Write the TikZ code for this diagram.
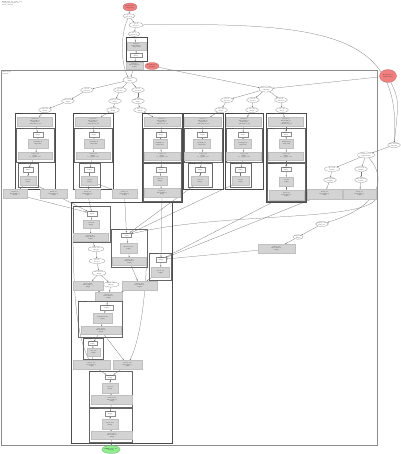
\documentclass[tikz,border=0pt]{standalone}
\definecolor{paramred}{RGB}{240, 128, 128}
\definecolor{rootgreen}{RGB}{144, 238, 144}
\definecolor{fusegray}{RGB}{211, 211, 211}
\usepackage{tikz}
\usetikzlibrary{shapes.geometric, arrows.meta, backgrounds}
\newcommand{\hlofont}{\fontsize{1.3}{1.6}\selectfont}
\tikzset{
  hloell/.style={ellipse, draw=black!45, fill=white, line width=0.25pt, inner sep=0pt, minimum width=13pt, minimum height=5pt, font=\hlofont, align=center},
  paramell/.style={hloell, fill=paramred, draw=paramred!75!black},
  rootell/.style={hloell, fill=rootgreen, draw=rootgreen!70!black},
  fusebox/.style={rectangle, fill=fusegray, draw=black!25, line width=0.2pt, inner sep=0pt, minimum height=9pt, font=\hlofont, align=center},
  instbox/.style={rectangle, draw=black!45, fill=white, line width=0.2pt, inner sep=0pt, minimum width=10pt, minimum height=4.5pt, font=\hlofont, align=center},
  outerclu/.style={draw=black!45, line width=1pt},
  fuseclu/.style={draw=black!70, line width=0.7pt},
  innerclu/.style={draw=black!60, line width=0.45pt},
  clulabel/.style={font=\hlofont, anchor=north west, inner sep=0.3pt, align=left},
  wire/.style={draw=black!55, line width=0.25pt, -{Stealth[length=1.6pt, width=1.2pt]}},
}

\begin{document}
\begin{tikzpicture}[x=1pt, y=-1pt]
  \useasboundingbox (0,0) rectangle (400,454);

  % Header
  \node[clulabel] (hdr) at (1.5,1) {HloModule jit\_train\_step\\computation main.42\\fusion clusters};

  % Entry chain
  \node[paramell, minimum width=14pt, minimum height=8pt] (r0) at (130,7) {Parameter 0\\f32[8,128]};
  \node[hloell, minimum width=12pt, minimum height=4.5pt] (e1) at (129,16) {gte.1\\index=0};
  \node[hloell, minimum width=14pt] (e2) at (136,25) {gte.2\\index=1};
  \node[hloell, minimum width=12pt, minimum height=4.5pt] (e3) at (134,34) {gte.3\\index=2};

  % Top fusion
  \draw[fuseclu] (126,37) rectangle (147,61);
  \node[clulabel] (tlab) at (126.5,37.5) {fusion.1};
  \node[fusebox, minimum width=19pt, minimum height=8pt] (t1) at (136.5,46) {fusion.1\\kind=kLoop\\f32[8,128]};
  \node[instbox, minimum width=12pt, minimum height=4pt] (t2) at (136,55) {copy.2\\f32[8]};
  \node[fusebox, minimum width=17pt, minimum height=7pt] (t3) at (134.5,65.5) {fusion.2\\kind=kInput\\f32[8]};
  \node[paramell, minimum width=14pt, minimum height=7pt] (r1) at (152,66) {Parameter 1\\f32[128]};

  % Main computation
  \draw[outerclu] (1,71) rectangle (377,445);
  \node[clulabel] (mlab) at (2,71.5) {while.body\\main.42};
  \node[hloell, minimum width=14pt, minimum height=6pt] (m0) at (130,80) {tuple.5\\f32[8]};

  % Left fan
  \node[hloell] (la1) at (87,90) {gte.10\\index=0};
  \node[hloell] (la2) at (68,101) {bitcast.11\\f32[8]};
  \node[hloell] (la3) at (45,110) {slice.12\\f32[4]};
  \node[hloell] (lb1) at (120,90) {gte.13\\index=1};
  \node[hloell] (lb2) at (115,101) {bitcast.14\\f32[8]};
  \node[hloell] (lb3) at (113,110) {slice.15\\f32[4]};
  \node[hloell] (lc1) at (138,90) {gte.16\\index=2};
  \node[hloell] (lc2) at (138,101) {bitcast.17\\f32[8]};
  \node[hloell] (lc3) at (140,110) {slice.18\\f32[4]};

  % Right fan
  \node[paramell, minimum width=17pt, minimum height=13pt] (r2) at (388,76) {Parameter 2\\f32[128,128]};
  \node[hloell, minimum width=14pt, minimum height=6pt] (hub) at (266,89) {broadcast.20\\f32[128]};
  \node[hloell] (rd1) at (227,100) {gte.21\\index=0};
  \node[hloell] (rd2) at (221,110) {slice.22\\f32[4]};
  \node[hloell] (rf1) at (253,100) {gte.23\\index=1};
  \node[hloell] (rf2) at (252,110) {slice.24\\f32[4]};
  \node[hloell] (rg1) at (281,100) {gte.25\\index=2};
  \node[hloell] (rg2) at (282,110) {slice.26\\f32[4]};

  % Fusion A
  \draw[fuseclu] (15,113) rectangle (55,189);
  \node[clulabel] (falab) at (15.5,113.3) {fusion.30};
  \node[fusebox, minimum width=35pt] (fatop) at (35,121.5) {fusion.30\\kind=kLoop\\f32[8,128]\\calls=fused\_30};
  \draw[innerclu] (16,128) rectangle (54,162);
  \node[clulabel] (fa1lab) at (16.5,128.3) {fused\_30};
  \node[instbox] (faw1) at (38,134.5) {param.0\\f32[8]};
  \node[fusebox, minimum width=20pt] (fag1) at (38,143.5) {multiply.31\\f32[8,128]};
  \node[fusebox, minimum width=34pt, minimum height=7pt] (fab1) at (35,156) {reduce.32\\f32[8]\\to\_apply=add};
  \draw[innerclu] (18,163) rectangle (38,187);
  \node[clulabel] (fa2lab) at (18.5,163.3) {fused\_33};
  \node[instbox] (faw2) at (28,169.5) {param.1\\f32[8]};
  \node[fusebox, minimum width=16pt] (fag2) at (28,181) {add.34\\f32[8]};

  % Fusion B
  \draw[fuseclu] (73,113) rectangle (113,189);
  \node[clulabel] (fblab) at (73.5,113.3) {fusion.40};
  \node[fusebox, minimum width=35pt] (fbtop) at (93,121.5) {fusion.40\\kind=kLoop\\f32[8,128]\\calls=fused\_40};
  \draw[innerclu] (74,128) rectangle (112,162);
  \node[clulabel] (fb1lab) at (74.5,128.3) {fused\_40};
  \node[instbox] (fbw1) at (94,134.5) {param.0\\f32[8]};
  \node[fusebox, minimum width=20pt] (fbg1) at (94,143.5) {multiply.41\\f32[8,128]};
  \node[fusebox, minimum width=34pt, minimum height=7pt] (fbb1) at (93,156) {reduce.42\\f32[8]\\to\_apply=add};
  \draw[innerclu] (79,163) rectangle (100,187);
  \node[clulabel] (fb2lab) at (79.5,163.3) {fused\_43};
  \node[instbox] (fbw2) at (89.5,169.5) {param.1\\f32[8]};
  \node[fusebox, minimum width=16pt] (fbg2) at (89.5,181) {add.44\\f32[8]};

  % Fusion C
  \draw[fuseclu] (142,113) rectangle (182,202);
  \node[clulabel] (fclab) at (142.5,113.3) {fusion.50};
  \node[fusebox, minimum width=36pt] (fctop) at (162,121.5) {fusion.50\\kind=kLoop\\f32[8,128]\\calls=fused\_50};
  \draw[innerclu] (143,128) rectangle (181,162);
  \node[clulabel] (fc1lab) at (143.5,128.3) {fused\_50};
  \node[instbox] (fcw1) at (161,134.5) {param.0\\f32[8]};
  \node[fusebox, minimum width=14pt] (fcg1) at (160,144) {multiply.51\\f32[8,128]};
  \node[fusebox, minimum width=36pt, minimum height=8pt] (fcb1) at (162,156) {reduce.52\\f32[8]\\to\_apply=add};
  \draw[innerclu] (143,163) rectangle (181,201);
  \node[clulabel] (fc2lab) at (143.5,163.3) {fused\_53};
  \node[instbox] (fcw2) at (161,169.5) {param.1\\f32[8]};
  \node[fusebox, minimum width=14pt] (fcg2) at (160,180.5) {add.54\\f32[8]};
  \node[fusebox, minimum width=36pt] (fcb2) at (162,193) {fusion.55\\kind=kLoop\\f32[8]};

  % Fusion D
  \draw[fuseclu] (183,113) rectangle (223,189);
  \node[clulabel] (fdlab) at (183.5,113.3) {fusion.60};
  \node[fusebox, minimum width=37pt] (fdtop) at (203,121.5) {fusion.60\\kind=kLoop\\f32[8,128]\\calls=fused\_60};
  \draw[innerclu] (184,128) rectangle (222,162);
  \node[clulabel] (fd1lab) at (184.5,128.3) {fused\_60};
  \node[instbox] (fdw1) at (202.5,134.5) {param.0\\f32[8]};
  \node[fusebox, minimum width=17pt] (fdg1) at (202,144) {multiply.61\\f32[8,128]};
  \node[fusebox, minimum width=37pt, minimum height=8pt] (fdb1) at (203,156) {reduce.62\\f32[8]\\to\_apply=add};
  \draw[innerclu] (188,163) rectangle (212,187);
  \node[clulabel] (fd2lab) at (188.5,163.3) {fused\_63};
  \node[instbox] (fdw2) at (200,169.5) {param.1\\f32[8]};
  \node[fusebox, minimum width=17pt] (fdg2) at (200,181) {add.64\\f32[8]};

  % Fusion E
  \draw[fuseclu] (225,113) rectangle (263,189);
  \node[clulabel] (felab) at (225.5,113.3) {fusion.70};
  \node[fusebox, minimum width=35pt] (fetop) at (244,121.5) {fusion.70\\kind=kLoop\\f32[8,128]\\calls=fused\_70};
  \draw[innerclu] (226,128) rectangle (262,162);
  \node[clulabel] (fe1lab) at (226.5,128.3) {fused\_70};
  \node[instbox] (few1) at (243,134.5) {param.0\\f32[8]};
  \node[fusebox, minimum width=17pt] (feg1) at (243,144) {multiply.71\\f32[8,128]};
  \node[fusebox, minimum width=35pt, minimum height=8pt] (feb1) at (244,156) {reduce.72\\f32[8]\\to\_apply=add};
  \draw[innerclu] (230,163) rectangle (251,187);
  \node[clulabel] (fe2lab) at (230.5,163.3) {fused\_73};
  \node[instbox] (few2) at (240.5,169.5) {param.1\\f32[8]};
  \node[fusebox, minimum width=17pt] (feg2) at (240.5,181) {add.74\\f32[8]};

  % Fusion F
  \draw[fuseclu] (266,113) rectangle (306,202);
  \node[clulabel] (fflab) at (266.5,113.3) {fusion.80};
  \node[fusebox, minimum width=35pt] (fftop) at (286,122) {fusion.80\\kind=kLoop\\f32[8,128]\\calls=fused\_80};
  \draw[innerclu] (267,128) rectangle (305,162);
  \node[clulabel] (ff1lab) at (267.5,128.3) {fused\_80};
  \node[instbox] (ffw1) at (286,134) {param.0\\f32[8]};
  \node[fusebox, minimum width=14pt] (ffg1) at (286.5,143.5) {multiply.81\\f32[8,128]};
  \node[fusebox, minimum width=35pt, minimum height=8pt] (ffb1) at (286,156) {reduce.82\\f32[8]\\to\_apply=add};
  \draw[innerclu] (267,163) rectangle (305,201);
  \node[clulabel] (ff2lab) at (267.5,163.3) {fused\_83};
  \node[instbox] (ffw2) at (286,169) {param.1\\f32[8]};
  \node[fusebox, minimum width=14pt] (ffg2) at (286.5,181.5) {add.84\\f32[8]};
  \node[fusebox, minimum width=35pt, minimum height=10pt] (ffb2) at (286.5,195) {fusion.85\\kind=kLoop\\f32[8]};

  % Output row
  \node[fusebox, minimum width=24pt] (out1) at (15,194) {fusion.90\\kind=kLoop\\f32[4]};
  \node[fusebox, minimum width=27pt] (out2) at (53.5,194) {fusion.91\\kind=kLoop\\f32[4]};
  \node[fusebox, minimum width=25pt] (out3) at (87.5,194) {fusion.92\\kind=kLoop\\f32[4]};
  \node[fusebox, minimum width=25pt] (out4) at (124.5,194) {fusion.93\\kind=kLoop\\f32[4]};
  \node[fusebox, minimum width=35pt, minimum height=10pt] (out5) at (324.5,194) {fusion.94\\kind=kLoop\\f32[4]};
  \node[fusebox, minimum width=33pt, minimum height=10pt] (out6) at (359.5,194) {fusion.95\\kind=kLoop\\f32[4]};

  % Right chain
  \node[hloell, minimum width=13pt] (n1) at (394,145) {bitcast.100\\f32[128]};
  \node[hloell, minimum width=17pt, minimum height=6pt] (n2) at (366,155) {transpose.101\\f32[128,128]};
  \node[hloell, minimum width=15pt] (n3) at (332,169) {slice.102\\f32[64]};
  \node[hloell] (n4) at (361,169) {slice.103\\f32[64]};
  \node[hloell] (n5) at (330,180) {bitcast.104\\f32[64]};
  \node[hloell] (n6) at (361,180) {bitcast.105\\f32[64]};
  \node[hloell, minimum width=12pt] (n7) at (322,224) {reshape.106\\f32[8,16]};
  \node[hloell, minimum width=10pt, minimum height=4.5pt] (n8) at (298,237) {copy.107\\f32[8]};
  \node[fusebox, minimum width=37pt] (out7) at (276.5,248.5) {fusion.108\\kind=kLoop\\f32[8]};

  % Lower computation
  \draw[fuseclu] (71,202) rectangle (172,443);
  \node[clulabel] (lolab) at (71.5,202.3) {fusion.110};
  \draw[innerclu] (73,206) rectangle (110,242);
  \node[clulabel] (lo1lab) at (73.5,206.3) {fused\_111};
  \node[instbox] (lo1w) at (92,213.5) {param.0\\f32[4]};
  \node[fusebox, minimum width=16pt, minimum height=8pt] (lo1g) at (91,224) {add.112\\f32[4]};
  \node[fusebox, minimum width=35pt, minimum height=8pt] (lo1b) at (90.5,237.5) {fusion.113\\kind=kLoop\\f32[4]};
  \node[hloell, minimum width=16pt] (p1) at (96,249) {tuple.114\\(f32[4])};
  \node[hloell, minimum width=16pt] (p2) at (97,261) {gte.115\\index=0};
  \node[hloell, minimum width=14pt] (p3) at (99,273) {bitcast.116\\f32[4]};
  \draw[innerclu] (111,229) rectangle (147,267);
  \node[clulabel] (lo2lab) at (111.5,229.3) {fused\_117};
  \node[instbox] (lo2w) at (126.5,235) {param.0\\f32[4]};
  \node[fusebox, minimum width=17pt, minimum height=10pt] (lo2g) at (128.5,248) {subtract.118\\f32[4]};
  \node[fusebox, minimum width=34pt, minimum height=8pt] (lo2b) at (129.5,261.5) {fusion.119\\kind=kLoop\\f32[4]};
  \draw[innerclu] (149,253) rectangle (171,280);
  \node[clulabel] (lo3lab) at (149.5,253.3) {fused\_120};
  \node[instbox] (lo3w) at (161,259.5) {param.0\\f32[4]};
  \node[fusebox, minimum width=18pt, minimum height=10pt] (lo3g) at (160.5,272) {divide.121\\f32[4]};
  \node[fusebox, minimum width=30pt] (s1) at (88,285.5) {fusion.122\\kind=kLoop\\f32[4]};
  \node[hloell, minimum width=16pt] (q1) at (111,284.5) {tuple.123\\(f32[4])};
  \node[fusebox, minimum width=35pt] (s2) at (139.5,285.5) {fusion.124\\kind=kLoop\\f32[4]};
  \node[fusebox, minimum width=27pt] (s3) at (108.5,296.5) {fusion.125\\kind=kLoop\\f32[4]};
  \draw[innerclu] (78,301) rectangle (122,337);
  \node[clulabel] (lo4lab) at (78.5,301.3) {fused\_126};
  \node[instbox, minimum width=13pt, minimum height=5pt] (lo4w) at (106.5,307.5) {param.0\\f32[4]};
  \node[fusebox, minimum width=19pt, minimum height=10pt] (lo4g) at (102.5,318) {maximum.127\\f32[4]};
  \node[fusebox, minimum width=40pt, minimum height=8pt] (lo4b) at (101,330.5) {fusion.128\\kind=kLoop\\f32[4]};
  \draw[innerclu] (83,338) rectangle (103,359);
  \node[clulabel] (lo5lab) at (83.5,338.3) {fused\_129};
  \node[instbox, minimum width=9pt, minimum height=4pt] (lo5w) at (92.5,343.5) {param.0\\f32[4]};
  \node[fusebox, minimum width=13pt, minimum height=8pt] (lo5g) at (93.5,352.5) {exp.130\\f32[4]};
  \node[fusebox, minimum width=37pt] (s4) at (91.5,365) {fusion.131\\kind=kLoop\\f32[4]};
  \node[fusebox, minimum width=29pt] (s5) at (127.5,365) {fusion.132\\kind=kLoop\\f32[4]};
  \draw[innerclu] (89,371) rectangle (132,407);
  \node[clulabel] (lo6lab) at (89.5,371.3) {fused\_133};
  \node[instbox] (lo6w) at (110,377) {param.0\\f32[4]};
  \node[fusebox, minimum width=16pt, minimum height=10pt] (lo6g) at (110,388) {log.134\\f32[4]};
  \node[fusebox, minimum width=41pt] (lo6b) at (112,400) {fusion.135\\kind=kLoop\\f32[4]};
  \draw[innerclu] (89,408) rectangle (132,442);
  \node[clulabel] (lo7lab) at (89.5,408.3) {fused\_136};
  \node[instbox] (lo7w) at (110,413.5) {param.0\\f32[4]};
  \node[fusebox, minimum width=16pt, minimum height=10pt] (lo7g) at (110,424) {negate.137\\f32[4]};
  \node[fusebox, minimum width=41pt, minimum height=8pt] (lo7b) at (112,435.5) {fusion.138\\kind=kLoop\\f32[4]};
  \node[rootell, minimum width=18pt, minimum height=8pt] (root) at (111,449.5) {ROOT tuple.139\\(f32[4])};

  % Edges
  \begin{scope}[on background layer]
    \draw[wire] (r0) -- (e1);
    \draw[wire] (e1) -- (e2);
    \draw[wire] (e2) -- (e3);
    \draw[wire] (e3) -- (t1);
    \draw[wire] (t1) -- (t2);
    \draw[wire] (t2) -- (t3);
    \draw[wire] (t3) -- (m0);
    \draw[wire] (e1) .. controls (120,35) and (121,65) .. (m0);
    \draw[wire] (e2) .. controls (330,22) and (402,35) .. (n1);
    \draw[wire] (r1) -- (hub);
    \draw[wire] (r2) -- (hub);
    \draw[wire] (r2) .. controls (399,100) .. (n1);
    % left fan
    \draw[wire] (m0) -- (la1);
    \draw[wire] (la1) -- (la2);
    \draw[wire] (la2) -- (la3);
    \draw[wire] (la3) -- (fatop);
    \draw[wire] (m0) -- (lb1);
    \draw[wire] (lb1) -- (lb2);
    \draw[wire] (lb2) -- (lb3);
    \draw[wire] (lb3) -- (fbtop);
    \draw[wire] (m0) -- (lc1);
    \draw[wire] (lc1) -- (lc2);
    \draw[wire] (lc2) -- (lc3);
    \draw[wire] (lc3) -- (fctop);
    % right fan
    \draw[wire] (hub) -- (rd1);
    \draw[wire] (rd1) -- (rd2);
    \draw[wire] (rd2) -- (fdtop);
    \draw[wire] (hub) -- (rf1);
    \draw[wire] (rf1) -- (rf2);
    \draw[wire] (rf2) -- (fetop);
    \draw[wire] (hub) -- (rg1);
    \draw[wire] (rg1) -- (rg2);
    \draw[wire] (rg2) -- (fftop);
    % inside the fusions
    \draw[wire] (fatop) -- (faw1);
    \draw[wire] (faw1) -- (fag1);
    \draw[wire] (fag1) -- (fab1);
    \draw[wire] (fab1) -- (faw2);
    \draw[wire] (faw2) -- (fag2);
    \draw[wire] (fbtop) -- (fbw1);
    \draw[wire] (fbw1) -- (fbg1);
    \draw[wire] (fbg1) -- (fbb1);
    \draw[wire] (fbb1) -- (fbw2);
    \draw[wire] (fbw2) -- (fbg2);
    \draw[wire] (fctop) -- (fcw1);
    \draw[wire] (fcw1) -- (fcg1);
    \draw[wire] (fcg1) -- (fcb1);
    \draw[wire] (fcb1) -- (fcw2);
    \draw[wire] (fcw2) -- (fcg2);
    \draw[wire] (fcg2) -- (fcb2);
    \draw[wire] (fdtop) -- (fdw1);
    \draw[wire] (fdw1) -- (fdg1);
    \draw[wire] (fdg1) -- (fdb1);
    \draw[wire] (fdb1) -- (fdw2);
    \draw[wire] (fdw2) -- (fdg2);
    \draw[wire] (fetop) -- (few1);
    \draw[wire] (few1) -- (feg1);
    \draw[wire] (feg1) -- (feb1);
    \draw[wire] (feb1) -- (few2);
    \draw[wire] (few2) -- (feg2);
    \draw[wire] (fftop) -- (ffw1);
    \draw[wire] (ffw1) -- (ffg1);
    \draw[wire] (ffg1) -- (ffb1);
    \draw[wire] (ffb1) -- (ffw2);
    \draw[wire] (ffw2) -- (ffg2);
    \draw[wire] (ffg2) -- (ffb2);
    % fusion outputs
    \draw[wire] (fag2) -- (out1);
    \draw[wire] (fag2) -- (out2);
    \draw[wire] (fbg2) -- (out3);
    \draw[wire] (fbg2) -- (out4);
    % right chain
    \draw[wire] (n1) -- (n2);
    \draw[wire] (n2) -- (n3);
    \draw[wire] (n3) -- (n5);
    \draw[wire] (n5) -- (out5);
    \draw[wire] (n2) -- (n4);
    \draw[wire] (n4) -- (n6);
    \draw[wire] (n6) -- (out6);
    \draw[wire] (n2) .. controls (385,175) and (385,205) .. (n7);
    \draw[wire] (n7) -- (n8);
    \draw[wire] (n8) -- (out7);
    % into the lower computation
    \draw[wire] (out1) -- (lo1w);
    \draw[wire] (out2) -- (lo1w);
    \draw[wire] (out3) -- (lo1w);
    \draw[wire] (out4) -- (lo2w);
    \draw[wire] (fcb2) -- (lo3w);
    \draw[wire] (fdg2) -- (lo2w);
    \draw[wire] (feg2) -- (lo2w);
    \draw[wire] (ffb2) -- (lo3w);
    \draw[wire] (out5) -- (lo3w);
    \draw[wire] (out6.south east) .. controls (360,222) and (220,212) .. (lo2w);
    \draw[wire] (out7) -- (lo3w);
    % lower computation
    \draw[wire] (lo1w) -- (lo1g);
    \draw[wire] (lo1g) -- (lo1b);
    \draw[wire] (lo1b) -- (p1);
    \draw[wire] (p1) -- (p2);
    \draw[wire] (p2) -- (p3);
    \draw[wire] (p3) -- (s1);
    \draw[wire] (p3) -- (q1);
    \draw[wire] (lo2w) -- (lo2g);
    \draw[wire] (lo2g) -- (lo2b);
    \draw[wire] (lo2b) -- (s2);
    \draw[wire] (lo3w) -- (lo3g);
    \draw[wire] (lo3g) -- (s2);
    \draw[wire] (s1) -- (s3);
    \draw[wire] (q1) -- (s3);
    \draw[wire] (s2) -- (s3);
    \draw[wire] (s3) -- (lo4w);
    \draw[wire] (lo4w) -- (lo4g);
    \draw[wire] (lo4g) -- (lo4b);
    \draw[wire] (lo4b) -- (lo5w);
    \draw[wire] (lo5w) -- (lo5g);
    \draw[wire] (lo5g) -- (s4);
    \draw[wire] (lo4b) -- (s5);
    \draw[wire] (lo1b.west) .. controls (74,280) and (74,330) .. (s4);
    \draw[wire] (lo2b.east) .. controls (145,300) and (140,340) .. (s5);
    \draw[wire] (s4) -- (lo6w);
    \draw[wire] (s5) -- (lo6w);
    \draw[wire] (lo6w) -- (lo6g);
    \draw[wire] (lo6g) -- (lo6b);
    \draw[wire] (lo6b) -- (lo7w);
    \draw[wire] (lo7w) -- (lo7g);
    \draw[wire] (lo7g) -- (lo7b);
    \draw[wire] (lo7b) -- (root);
  \end{scope}
\end{tikzpicture}
\end{document}
